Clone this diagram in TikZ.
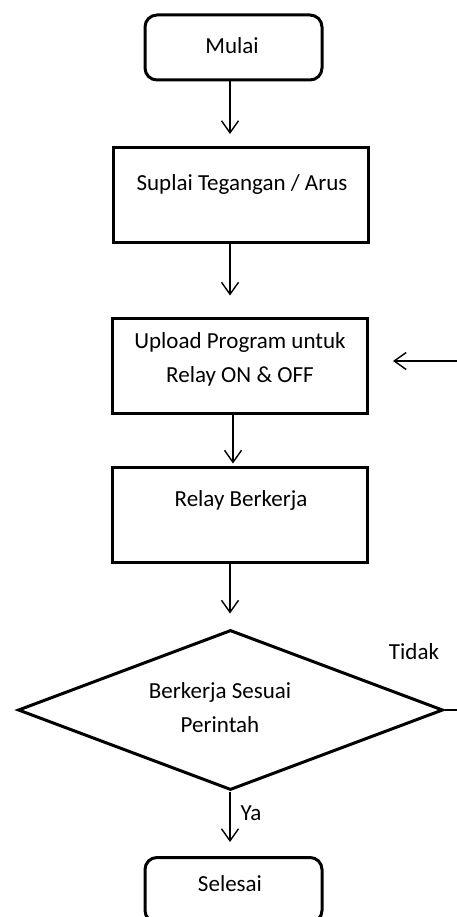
\documentclass[tikz,border=0pt]{standalone}
\usepackage{fontspec}
\setmainfont{Carlito}
\usetikzlibrary{arrows.meta,shapes.geometric}
\tikzset{%%
  >={Straight Barb[length=12pt,width=17pt]},
  terminal/.style={draw, line width=3pt, rounded corners=12pt, minimum width=177pt, minimum height=65pt, inner sep=0pt},
  process/.style={draw, line width=3pt, minimum width=255pt, minimum height=95pt, inner sep=0pt},
  decision/.style={draw, diamond, line width=3pt, minimum width=425pt, minimum height=160pt, inner sep=0pt},
  flow/.style={->, line width=1.4pt},
  txt/.style={font=\fontsize{23}{34}\selectfont, align=center, inner sep=0pt}
  }

\begin{document}
\begin{tikzpicture}[x=1pt, y=-1pt]
  \path[use as bounding box, clip] (0,0) rectangle (457,917);
  % boxes
  \node[terminal] (mulai) at (233.5,47.5) {};
  \node[process] (suplai) at (240.5,195) {};
  \node[process] (upload) at (240,365.5) {};
  \node[process] (relay) at (240,514.5) {};
  \node[decision] (cek) at (230.5,710) {};
  \node[terminal] (selesai) at (233.5,890) {};
  % texts
  \node[txt] (mulai-t) at (232,46) {Mulai};
  \node[txt] (suplai-t) at (242,184) {Suplai Tegangan / Arus};
  \node[txt] (upload-t) at (240,359) {Upload Program untuk\\Relay ON \& OFF};
  \node[txt] (relay-t) at (241,500) {Relay Berkerja};
  \node[txt] (cek-t) at (220,708) {Berkerja Sesuai\\Perintah};
  \node[txt] (selesai-t) at (230,884) {Selesai};
  \node[txt] (tidak) at (414,652) {Tidak};
  \node[txt] (ya) at (251,813) {Ya};
  % arrows
  \coordinate (spine) at (230,0);
  \coordinate (spine2) at (233,0);
  \draw[flow, shorten >=12pt] (mulai.south -| spine) -- (suplai.north -| spine);
  \draw[flow, shorten >=21pt] (suplai.south -| spine) -- (upload.north -| spine);
  \draw[flow, shorten >=2pt] (upload.south -| spine2) -- (relay.north -| spine2);
  \draw[flow, shorten >=15pt] (relay.south -| spine) -- (cek.north -| spine);
  \draw[flow, shorten >=14pt] (cek.south -| spine) -- (selesai.north -| spine);
  % feedback
  \coordinate (tail) at (457,710);
  \coordinate (back) at (457,361);
  \draw[line width=1.4pt] (cek.east) -- (tail);
  \draw[flow, shorten >=24pt] (back) -- (back -| upload.east);
\end{tikzpicture}
\end{document}
